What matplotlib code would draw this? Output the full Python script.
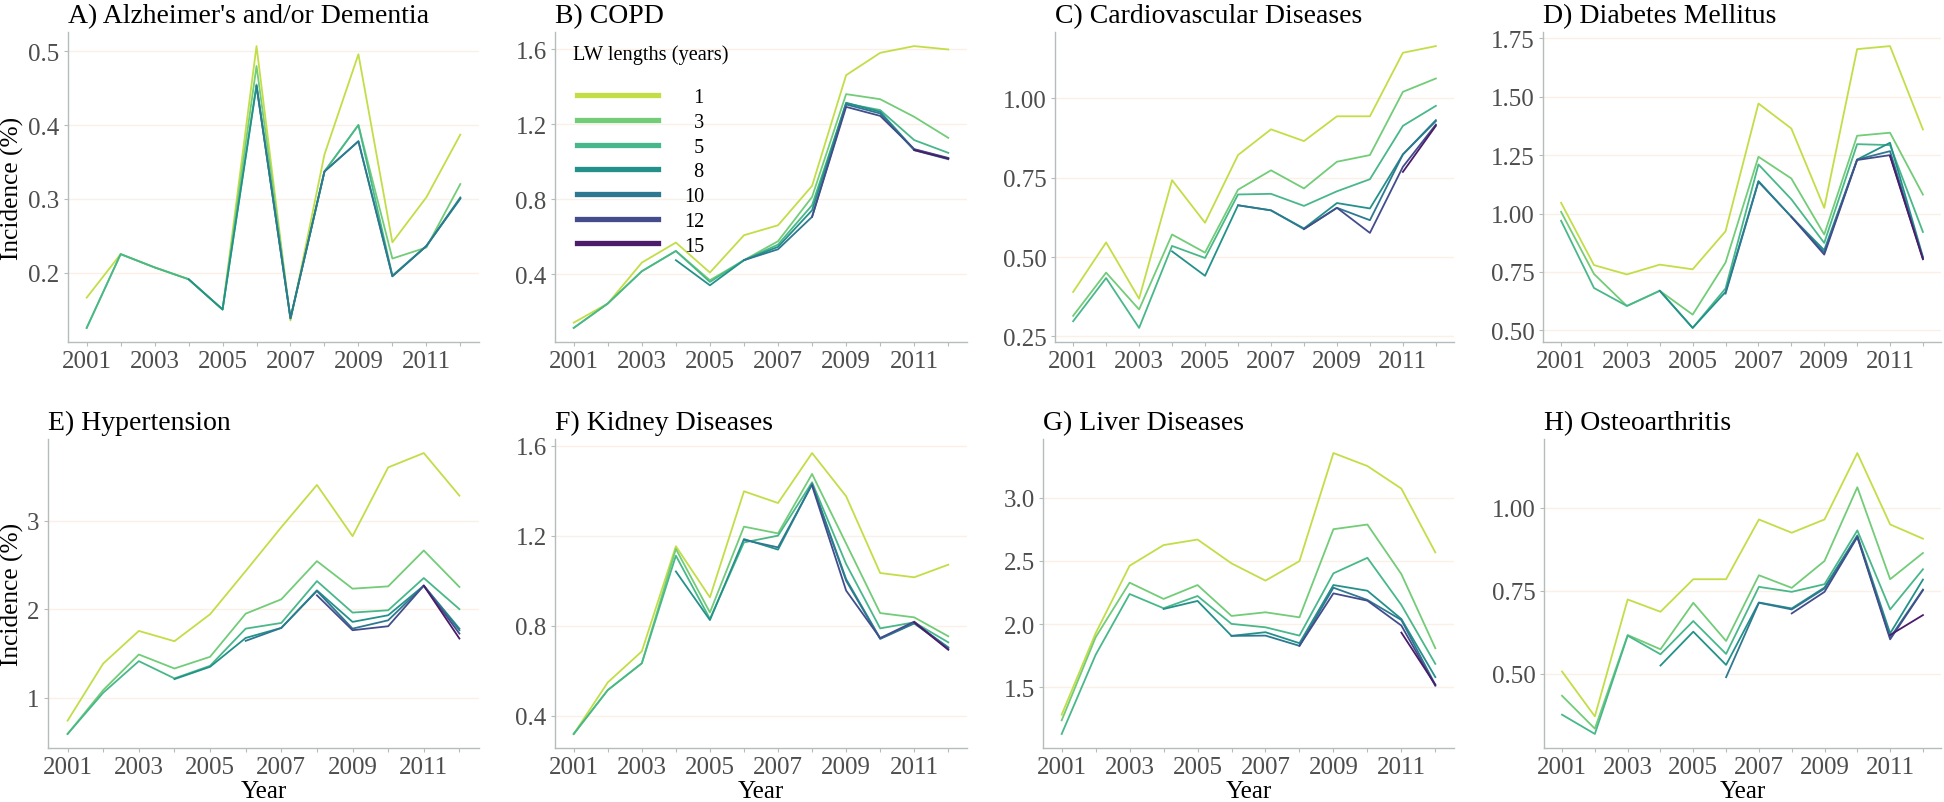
import matplotlib
matplotlib.use('Agg')
import matplotlib.pyplot as plt
from matplotlib.lines import Line2D
from matplotlib.ticker import FormatStrFormatter
import numpy as np

nan = np.nan

years = list(range(2001, 2013))
lw_lengths = [1, 3, 5, 8, 10, 12, 15]
lw_colors = ['#C2DE47', '#72CC78', '#48B88A', '#23918A', '#2E7891', '#434D8C', '#4B1C6A']

titles = ["A) Alzheimer's and/or Dementia", 'B) COPD', 'C) Cardiovascular Diseases',
          'D) Diabetes Mellitus', 'E) Hypertension', 'F) Kidney Diseases',
          'G) Liver Diseases', 'H) Osteoarthritis']

# one row per LW length (1, 3, 5, 8, 10, 12, 15), one column per year
alzheimers = [
    [0.166, 0.225, 0.207, 0.191, 0.150, 0.507, 0.135, 0.360, 0.496, 0.241, 0.302, 0.387],
    [0.125, 0.225, 0.207, 0.191, 0.150, 0.480, 0.138, 0.337, 0.400, 0.219, 0.234, 0.320],
    [0.125, 0.225, 0.207, 0.191, 0.150, 0.455, 0.138, 0.337, 0.400, 0.196, 0.236, 0.302],
    [nan, nan, nan, 0.191, 0.150, 0.453, 0.138, 0.337, 0.378, 0.195, 0.236, 0.300],
    [nan, nan, nan, nan, nan, 0.453, 0.138, 0.337, 0.378, 0.195, 0.236, 0.301],
    [nan, nan, nan, nan, nan, nan, nan, nan, nan, nan, nan, nan],
    [nan, nan, nan, nan, nan, nan, nan, nan, nan, nan, nan, nan],
]
copd = [
    [0.142, 0.244, 0.462, 0.569, 0.409, 0.608, 0.661, 0.871, 1.461, 1.580, 1.616, 1.598],
    [0.114, 0.244, 0.416, 0.524, 0.368, 0.475, 0.576, 0.812, 1.360, 1.333, 1.239, 1.127],
    [0.114, 0.244, 0.416, 0.524, 0.359, 0.475, 0.558, 0.768, 1.310, 1.275, 1.115, 1.047],
    [nan, nan, nan, 0.475, 0.341, 0.475, 0.546, 0.741, 1.314, 1.266, 1.065, 1.017],
    [nan, nan, nan, nan, nan, 0.475, 0.533, 0.706, 1.305, 1.257, 1.061, 1.013],
    [nan, nan, nan, nan, nan, nan, nan, 0.706, 1.292, 1.244, 1.067, 1.020],
    [nan, nan, nan, nan, nan, nan, nan, nan, nan, nan, 1.062, 1.016],
]
cardio = [
    [0.390, 0.546, 0.369, 0.742, 0.608, 0.821, 0.902, 0.865, 0.943, 0.943, 1.143, 1.164],
    [0.315, 0.451, 0.335, 0.571, 0.514, 0.712, 0.773, 0.716, 0.800, 0.821, 1.020, 1.062],
    [0.298, 0.434, 0.277, 0.535, 0.497, 0.697, 0.699, 0.661, 0.707, 0.745, 0.913, 0.976],
    [nan, nan, nan, 0.518, 0.441, 0.663, 0.647, 0.590, 0.670, 0.653, 0.823, 0.931],
    [nan, nan, nan, nan, nan, 0.663, 0.647, 0.588, 0.655, 0.616, 0.823, 0.928],
    [nan, nan, nan, nan, nan, nan, nan, 0.588, 0.655, 0.576, 0.784, 0.917],
    [nan, nan, nan, nan, nan, nan, nan, nan, nan, nan, 0.768, 0.913],
]
diabetes = [
    [1.046, 0.779, 0.739, 0.781, 0.761, 0.924, 1.471, 1.364, 1.024, 1.704, 1.717, 1.360],
    [1.007, 0.741, 0.604, 0.669, 0.567, 0.790, 1.243, 1.150, 0.910, 1.333, 1.346, 1.081],
    [0.969, 0.681, 0.604, 0.669, 0.510, 0.679, 1.210, 1.061, 0.874, 1.297, 1.293, 0.921],
    [nan, nan, nan, 0.669, 0.510, 0.664, 1.139, 0.986, 0.843, 1.231, 1.303, 0.814],
    [nan, nan, nan, nan, nan, 0.657, 1.136, 0.986, 0.833, 1.231, 1.267, 0.810],
    [nan, nan, nan, nan, nan, nan, nan, 0.986, 0.824, 1.229, 1.250, 0.807],
    [nan, nan, nan, nan, nan, nan, nan, nan, nan, nan, 1.246, 0.804],
]
hypertension = [
    [0.741, 1.386, 1.754, 1.638, 1.942, 2.430, 2.925, 3.402, 2.824, 3.600, 3.762, 3.281],
    [0.591, 1.086, 1.488, 1.330, 1.462, 1.949, 2.111, 2.542, 2.231, 2.257, 2.662, 2.250],
    [0.591, 1.056, 1.413, 1.218, 1.360, 1.780, 1.844, 2.317, 1.961, 1.987, 2.351, 2.000],
    [nan, nan, nan, 1.210, 1.349, 1.675, 1.788, 2.212, 1.856, 1.931, 2.265, 1.780],
    [nan, nan, nan, nan, nan, 1.642, 1.788, 2.205, 1.780, 1.874, 2.265, 1.762],
    [nan, nan, nan, nan, nan, nan, nan, 2.156, 1.762, 1.807, 2.265, 1.724],
    [nan, nan, nan, nan, nan, nan, nan, nan, nan, nan, 2.265, 1.668],
]
kidney = [
    [0.319, 0.548, 0.686, 1.153, 0.926, 1.397, 1.345, 1.567, 1.375, 1.034, 1.015, 1.071],
    [0.319, 0.514, 0.633, 1.141, 0.859, 1.240, 1.210, 1.474, 1.165, 0.856, 0.837, 0.753],
    [0.319, 0.514, 0.633, 1.111, 0.830, 1.170, 1.200, 1.437, 1.074, 0.788, 0.815, 0.726],
    [nan, nan, nan, 1.041, 0.825, 1.185, 1.138, 1.430, 1.007, 0.744, 0.812, 0.704],
    [nan, nan, nan, nan, nan, 1.181, 1.148, 1.427, 1.000, 0.741, 0.810, 0.701],
    [nan, nan, nan, nan, nan, nan, nan, 1.422, 0.956, 0.745, 0.818, 0.696],
    [nan, nan, nan, nan, nan, nan, nan, nan, nan, nan, 0.815, 0.693],
]
liver = [
    [1.281, 1.927, 2.462, 2.626, 2.670, 2.481, 2.344, 2.499, 3.356, 3.253, 3.074, 2.568],
    [1.236, 1.895, 2.328, 2.199, 2.309, 2.064, 2.093, 2.053, 2.752, 2.789, 2.396, 1.808],
    [1.128, 1.756, 2.238, 2.125, 2.222, 2.001, 1.974, 1.908, 2.402, 2.525, 2.151, 1.684],
    [nan, nan, nan, 2.119, 2.183, 1.906, 1.935, 1.848, 2.309, 2.264, 2.040, 1.579],
    [nan, nan, nan, nan, nan, 1.906, 1.908, 1.827, 2.288, 2.191, 2.032, 1.518],
    [nan, nan, nan, nan, nan, nan, nan, 1.827, 2.243, 2.185, 1.988, 1.510],
    [nan, nan, nan, nan, nan, nan, nan, nan, nan, nan, 1.932, 1.518],
]
osteo = [
    [0.507, 0.372, 0.724, 0.687, 0.785, 0.785, 0.965, 0.925, 0.965, 1.165, 0.950, 0.907],
    [0.434, 0.335, 0.617, 0.574, 0.714, 0.599, 0.797, 0.759, 0.840, 1.062, 0.785, 0.864],
    [0.377, 0.319, 0.615, 0.559, 0.659, 0.560, 0.762, 0.747, 0.770, 0.932, 0.694, 0.815],
    [nan, nan, nan, 0.525, 0.627, 0.527, 0.715, 0.697, 0.760, 0.917, 0.622, 0.784],
    [nan, nan, nan, nan, nan, 0.490, 0.714, 0.694, 0.757, 0.914, 0.609, 0.754],
    [nan, nan, nan, nan, nan, nan, nan, 0.682, 0.747, 0.912, 0.604, 0.752],
    [nan, nan, nan, nan, nan, nan, nan, nan, nan, nan, 0.617, 0.677],
]

y_ticks = [[0.2, 0.3, 0.4, 0.5], [0.4, 0.8, 1.2, 1.6], [0.25, 0.5, 0.75, 1.0],
           [0.5, 0.75, 1.0, 1.25, 1.5, 1.75], [1, 2, 3], [0.4, 0.8, 1.2, 1.6],
           [1.5, 2.0, 2.5, 3.0], [0.5, 0.75, 1.0]]
y_fmt = ['%.1f', '%.1f', '%.2f', '%.2f', '%d', '%.1f', '%.1f', '%.2f']

panels = [alzheimers, copd, cardio, diabetes, hypertension, kidney, liver, osteo]

# axes boxes in pixels: left, top, right, bottom
boxes = [(68, 33, 479, 343), (555, 33, 967, 343), (1055, 33, 1454, 343), (1543, 33, 1941, 343),
         (48, 440, 479, 749), (555, 440, 967, 749), (1043, 440, 1454, 749), (1544, 440, 1941, 749)]

W, H = 1944, 803
plt.rcParams['font.family'] = ['Liberation Serif', 'DejaVu Serif']
fig = plt.figure(figsize=(W / 100, H / 100), dpi=100)

axis_col = '#B4BCBC'
for i in range(8):
    l, t, r, b = boxes[i]
    ax = fig.add_axes([l / W, 1 - b / H, (r - l) / W, (b - t) / H])
    for k in range(len(lw_lengths)):
        ax.plot(years, panels[i][k], color=lw_colors[k], lw=1.3)

    ax.set_yticks(y_ticks[i])
    ax.yaxis.set_major_formatter(FormatStrFormatter(y_fmt[i]))
    ax.set_xticks(years)
    ax.set_xticklabels([str(y) if y % 2 == 1 else '' for y in years])
    ax.grid(axis='y', color='linen', lw=1.0)
    ax.set_axisbelow(True)

    for s in ['top', 'right']:
        ax.spines[s].set_visible(False)
    for s in ['left', 'bottom']:
        ax.spines[s].set_color(axis_col)
        ax.spines[s].set_linewidth(1.0)
    ax.tick_params(colors=axis_col, labelcolor='#4D4D4D', labelsize=18, length=3, width=0.8, pad=3)

    ax.set_title(titles[i], loc='left', fontsize=20, pad=7)

    if i == 0 or i == 4:
        ax.set_ylabel('Incidence (%)', fontsize=18.3)
        ax.yaxis.set_label_coords((24 - l) / (r - l), 0.5)
    if i >= 4:
        ax.set_xlabel('Year', fontsize=18, labelpad=1)

    if i == 1:
        ax.text(18 / 412, 1 - 22 / 310, 'LW lengths (years)', transform=ax.transAxes,
                fontsize=14.7, va='center', ha='left')
        handles = [Line2D([0], [0], color=c, lw=3.8) for c in lw_colors]
        labels = [('\u2007' + str(n)) if n < 10 else str(n) for n in lw_lengths]
        leg = ax.legend(handles, labels, loc='upper left', bbox_to_anchor=(22 / 412, 1 - 56 / 310),
                        frameon=False, fontsize=14.5, handlelength=4.0, handletextpad=1.3,
                        labelspacing=0.28, borderpad=0, borderaxespad=0)

fig.savefig('out.png', dpi=100)
